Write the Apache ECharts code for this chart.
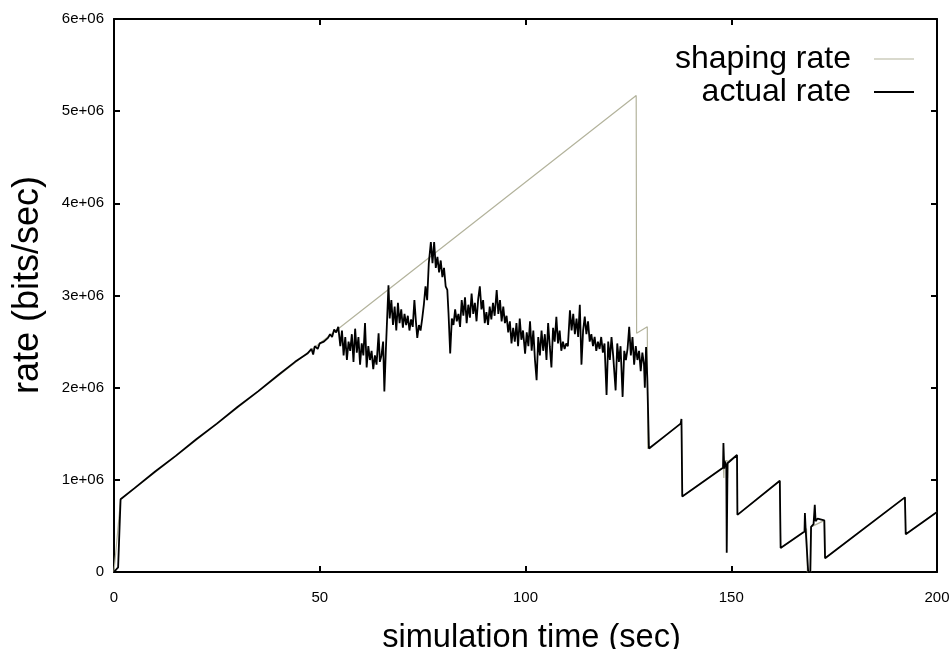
<!DOCTYPE html>
<html>
<head>
<meta charset="utf-8">
<script src="https://cdn.jsdelivr.net/npm/echarts@6/dist/echarts.min.js"></script>
<style>
  html, body { margin: 0; padding: 0; background: #fff; }
  #chart { width: 952px; height: 649px; }
</style>
</head>
<body>
<div id="chart"></div>
<script>
// rates are in units of 1e6 bits/sec, time in sec
var xTicks = [0, 50, 100, 150, 200];
var yTicks = [0, 1, 2, 3, 4, 5, 6];

var shapingRate = [
  [0, 0], [1.6, 0.79], [126.9, 5.17], [127.0, 2.59], [129.6, 2.66], [129.7, 1.34],
  [130.2, 1.34], [137.9, 1.62], [138.1, 0.82], [148.1, 1.14], [148.2, 1.02],
  [148.3, 1.21], [149.0, 1.21], [149.1, 1.02], [149.2, 1.20], [151.4, 1.27],
  [151.5, 0.62], [161.8, 0.99], [162.0, 0.26], [167.9, 0.44], [168.3, 0.47],
  [168.5, 0], [169.3, 0], [169.4, 0.49], [172.7, 0.56], [172.8, 0.15],
  [192.3, 0.81], [192.4, 0.41], [200, 0.65]
];

// ramp-up part, actual follows the shaping line
var actualRamp = [
  [0, 0], [1.0, 0.05], [1.6, 0.79], [5, 0.91], [10, 1.09], [15, 1.26], [20, 1.44],
  [25, 1.61], [30, 1.79], [35, 1.96], [40, 2.14], [44, 2.28], [45, 2.31], [47, 2.37],
  [48, 2.42], [48.4, 2.36], [48.8, 2.45], [49.5, 2.42], [50, 2.48], [51, 2.50],
  [52, 2.54], [52.5, 2.58], [53, 2.55], [53.5, 2.63], [54, 2.60]
];

// congested part (noisy)
var actualNoisy = [
  [54.5, 2.66], [55, 2.45], [55.4, 2.62], [55.8, 2.35], [56.2, 2.55], [56.6, 2.30],
  [57, 2.50], [57.4, 2.40], [57.8, 2.58], [58.2, 2.28], [58.6, 2.64], [59, 2.38],
  [59.4, 2.55], [59.8, 2.25], [60.2, 2.48], [60.6, 2.35], [61, 2.70], [61.4, 2.22],
  [61.8, 2.45], [62.2, 2.30], [62.6, 2.40], [63, 2.20], [63.4, 2.35], [63.8, 2.25],
  [64.3, 2.59], [64.6, 2.28], [65, 2.35], [65.4, 2.50], [65.7, 1.96], [66.1, 2.45],
  [66.7, 3.11], [67, 2.75], [67.4, 2.95], [67.8, 2.68], [68.2, 2.88], [68.6, 2.62],
  [69, 2.92], [69.4, 2.70], [69.8, 2.85], [70.2, 2.65], [70.6, 2.80], [71, 2.68],
  [71.4, 2.78], [71.8, 2.62], [72.2, 2.74], [72.6, 2.66], [73, 2.95], [73.4, 2.70],
  [73.7, 2.54], [74.1, 2.68], [74.5, 2.62], [74.9, 2.75], [75.3, 2.90], [75.7, 3.10],
  [76.1, 2.95], [76.5, 3.35], [77, 3.58], [77.4, 3.35], [77.8, 3.58], [78.2, 3.30],
  [78.6, 3.42], [79, 3.25], [79.4, 3.38], [79.8, 3.20], [80.2, 3.30], [80.6, 3.10],
  [81, 3.06], [81.3, 2.80], [81.7, 2.37], [82.1, 2.75], [82.5, 2.68], [82.9, 2.85],
  [83.3, 2.72], [83.7, 2.80], [84.1, 2.66], [84.5, 2.95], [84.9, 2.78], [85.3, 2.98],
  [85.7, 2.70], [86.1, 2.90], [86.5, 2.76], [86.9, 3.02], [87.3, 2.80], [87.7, 2.92],
  [88.1, 2.72], [88.5, 2.96], [88.9, 3.10], [89.3, 2.85], [89.7, 2.95], [90.1, 2.70],
  [90.5, 2.82], [90.9, 2.68], [91.3, 2.88], [91.7, 2.74], [92.1, 2.92], [92.5, 2.78],
  [93, 3.06], [93.4, 2.80], [93.8, 2.95], [94.2, 2.72], [94.6, 2.88], [95, 2.70],
  [95.4, 2.78], [95.8, 2.60], [96.2, 2.72], [96.6, 2.48], [97, 2.65], [97.4, 2.50],
  [97.8, 2.70], [98.2, 2.45], [98.6, 2.75], [99, 2.52], [99.4, 2.62], [99.9, 2.37],
  [100.3, 2.60], [100.7, 2.45], [101.1, 2.72], [101.5, 2.40], [101.9, 2.62],
  [102.3, 2.30], [102.7, 2.08], [103.1, 2.55], [103.5, 2.35], [103.9, 2.62],
  [104.3, 2.40], [104.7, 2.58], [105.1, 2.30], [105.5, 2.70], [105.9, 2.45],
  [106.3, 2.22], [106.7, 2.65], [107.1, 2.50], [107.5, 2.77], [107.9, 2.48],
  [108.3, 2.62], [108.7, 2.40], [109.1, 2.50], [109.5, 2.42], [109.9, 2.48],
  [110.3, 2.45], [110.8, 2.84], [111.2, 2.62], [111.6, 2.80], [112, 2.58],
  [112.4, 2.75], [112.8, 2.55], [113.2, 2.90], [113.6, 2.25], [114, 2.62],
  [114.4, 2.77], [114.8, 2.58], [115.2, 2.72], [115.6, 2.50], [116, 2.58],
  [116.4, 2.45], [116.8, 2.55], [117.2, 2.40], [117.6, 2.50], [118, 2.42],
  [118.4, 2.55], [118.8, 2.38], [119.2, 2.48], [119.7, 1.92], [120.1, 2.50],
  [120.5, 2.30], [120.9, 2.55], [121.3, 2.35], [121.9, 1.97], [122.3, 2.48],
  [122.7, 2.28], [123.1, 2.45], [123.6, 1.90], [124, 2.40], [124.4, 2.30],
  [124.8, 2.42], [125.2, 2.66], [125.6, 2.35], [126, 2.55], [126.4, 2.25],
  [126.8, 2.45], [127.2, 2.30], [127.6, 2.40], [128, 2.18], [128.4, 2.38],
  [128.8, 2.25], [129, 2.00], [129.3, 2.44], [129.6, 2.10]
];

// after the drop, actual follows the shaping sawtooth
var actualSaw = [
  [130.0, 1.34], [130.2, 1.34], [134, 1.48], [137.7, 1.61], [137.9, 1.66],
  [138.1, 0.82], [148.0, 1.13], [148.1, 1.40], [148.3, 1.12], [148.5, 1.20],
  [148.8, 1.14], [148.9, 0.21], [149.1, 1.18], [151.4, 1.27], [151.5, 0.62],
  [161.8, 0.99], [162.0, 0.26], [167.8, 0.44], [167.9, 0.64], [168.1, 0.45],
  [168.5, 0.47], [168.7, 0], [169.2, 0], [169.4, 0.49], [170.0, 0.52],
  [170.3, 0.73], [170.5, 0.55], [171.0, 0.58], [172.6, 0.56], [172.8, 0.15],
  [192.2, 0.81], [192.4, 0.41], [200, 0.65]
];

function toBits(arr) {
  return arr.map(function (p) { return [p[0], p[1] * 1e6]; });
}

var actualRate = toBits(actualRamp.concat(actualNoisy, actualSaw));
var shapingData = toBits(shapingRate);

var FONT = 'Liberation Sans, Arial, sans-serif';
var GRAY = '#b3b39c';

var chart = echarts.init(document.getElementById('chart'));

var tickStyle = { inside: true, length: 6, lineStyle: { color: '#000', width: 2 } };
var lineStyle = { onZero: false, lineStyle: { color: '#000', width: 2 } };

var option = {
  animation: false,
  backgroundColor: '#fff',
  grid: { left: 114, right: 15, top: 19, bottom: 77, containLabel: false, outerBoundsMode: 'none' },
  legend: [
    {
      data: [{ name: 'shaping rate', icon: 'rect', itemStyle: { color: GRAY } }],
      right: 33, top: 38,
      align: 'right',
      itemWidth: 40, itemHeight: 1.2,
      textStyle: { fontFamily: FONT, fontSize: 32, color: '#000', padding: [0, 18, 0, 0] }
    },
    {
      data: [{ name: 'actual rate', icon: 'rect', itemStyle: { color: '#000' } }],
      right: 33, top: 71,
      align: 'right',
      itemWidth: 40, itemHeight: 2,
      textStyle: { fontFamily: FONT, fontSize: 32, color: '#000', padding: [0, 18, 0, 0] }
    }
  ],
  xAxis: [
    {
      type: 'value', min: 0, max: 200, interval: 50,
      name: 'simulation time (sec)', nameLocation: 'middle', nameGap: 50,
      nameTextStyle: { fontFamily: FONT, fontSize: 32.6, color: '#000', padding: [0, 0, 0, 12] },
      axisLine: lineStyle, axisTick: tickStyle, splitLine: { show: false },
      axisLabel: { fontFamily: FONT, fontSize: 15, color: '#000', margin: 18 }
    },
    {
      type: 'value', position: 'top', min: 0, max: 200, interval: 50,
      axisLine: lineStyle, axisTick: tickStyle, splitLine: { show: false },
      axisLabel: { show: false }
    }
  ],
  yAxis: [
    {
      type: 'value', min: 0, max: 6e6, interval: 1e6,
      name: 'rate (bits/sec)', nameLocation: 'middle', nameGap: 68,
      nameTextStyle: { fontFamily: FONT, fontSize: 36, color: '#000', padding: [0, 0, 0, 21] },
      axisLine: lineStyle, axisTick: tickStyle, splitLine: { show: false },
      axisLabel: {
        fontFamily: FONT, fontSize: 15, color: '#000', margin: 10,
        formatter: function (v) { return v === 0 ? '0' : (v / 1e6) + 'e+06'; }
      }
    },
    {
      type: 'value', position: 'right', min: 0, max: 6e6, interval: 1e6,
      axisLine: lineStyle, axisTick: tickStyle, splitLine: { show: false },
      axisLabel: { show: false }
    }
  ],
  series: [
    {
      name: 'shaping rate', type: 'line', data: shapingData,
      showSymbol: false, symbol: 'none',
      lineStyle: { color: GRAY, width: 1.2 },
      itemStyle: { color: GRAY },
      z: 2
    },
    {
      name: 'actual rate', type: 'line', data: actualRate,
      showSymbol: false, symbol: 'none',
      lineStyle: { color: '#000', width: 1.8 },
      itemStyle: { color: '#000' },
      z: 3
    }
  ]
};

chart.setOption(option);
</script>
</body>
</html>
